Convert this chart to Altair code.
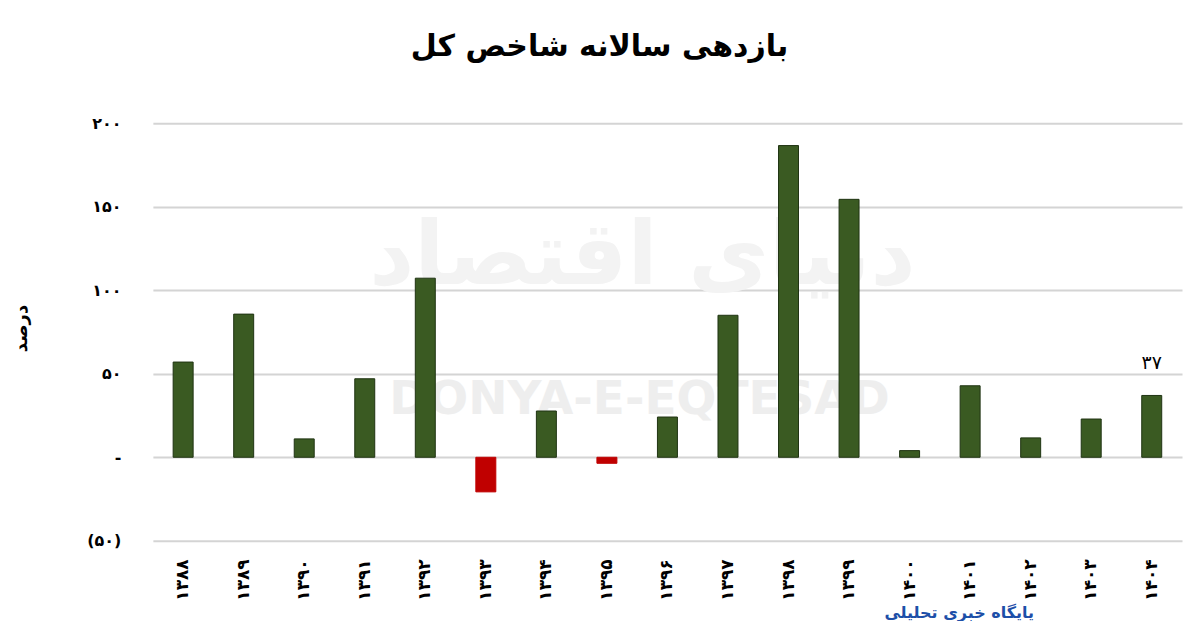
import altair as alt
import pandas as pd

years = ['۱۳۸۸', '۱۳۸۹', '۱۳۹۰', '۱۳۹۱', '۱۳۹۲', '۱۳۹۳', '۱۳۹۴', '۱۳۹۵', '۱۳۹۶',
         '۱۳۹۷', '۱۳۹۸', '۱۳۹۹', '۱۴۰۰', '۱۴۰۱', '۱۴۰۲', '۱۴۰۳', '۱۴۰۴']
returns = [57, 85.7, 11, 47, 107.2, -20.7, 27.7, -3.6, 24.1,
           85, 186.6, 154.4, 4, 42.8, 11.6, 22.9, 37]

y_tick_values = [-50, 0, 50, 100, 150, 200]
y_tick_labels = ['(۵۰)', '-', '۵۰', '۱۰۰', '۱۵۰', '۲۰۰']

label_year = '۱۴۰۴'
label_text = '۳۷'

title_text = 'بازدهی سالانه شاخص کل'
y_title = 'درصد'
watermark_en = 'DONYA-E-EQTESAD'
watermark_fa = 'دنیای اقتصاد'
logo_text = 'پایگاه خبری تحلیلی'

df = pd.DataFrame({'year': years, 'ret': returns})
df['sign'] = ['neg' if v < 0 else 'pos' for v in returns]

expr = "''"
for v, l in zip(y_tick_values, y_tick_labels):
    expr = f"datum.value == {v} ? '{l}' : ({expr})"

FONT = 'DejaVu Sans'

x_enc = alt.X('year:N', sort=None,
              scale=alt.Scale(paddingInner=0.67, paddingOuter=0.335),
              axis=alt.Axis(title=None, labelAngle=-90, labelFontSize=17,
                            labelFontWeight='bold', labelFont=FONT, labelColor='black',
                            labelPadding=18, domain=False, ticks=False, grid=False))
y_enc = alt.Y('ret:Q', scale=alt.Scale(domain=[-50, 200], nice=False, zero=True),
              axis=alt.Axis(values=y_tick_values, labelExpr=expr, title=y_title,
                            titleFont=FONT, titleFontSize=18, titleFontWeight='bold',
                            titleColor='black', titleX=-122, titleY=205, titleAngle=-90,
                            labelFont=FONT, labelFontSize=16, labelFontWeight='bold',
                            labelColor='black', labelPadding=32,
                            domain=False, ticks=False, grid=True,
                            gridColor='#d4d4d4', gridWidth=2))

base = alt.Chart(df)

wm_df = pd.DataFrame({'t': [watermark_en]})
wm_en = alt.Chart(wm_df).mark_text(font=FONT, fontSize=47, fontWeight='bold',
                                   color='#eeeeee', align='center', baseline='middle').encode(
    text='t:N', x=alt.value(487), y=alt.value(277))
wm_fa_df = pd.DataFrame({'t': [watermark_fa]})
wm_fa = alt.Chart(wm_fa_df).mark_text(font=FONT, fontSize=88, fontWeight='bold',
                                      color='#f3f3f3', align='center', baseline='middle').encode(
    text='t:N', x=alt.value(490), y=alt.value(135))

bars = base.mark_bar(size=20, strokeWidth=1).encode(
    x=x_enc, y=y_enc,
    color=alt.Color('sign:N', scale=alt.Scale(domain=['pos', 'neg'], range=['#3a5a22', '#c00000']),
                    legend=None),
    stroke=alt.Stroke('sign:N', scale=alt.Scale(domain=['pos', 'neg'], range=['#1f3312', '#c00000']),
                      legend=None),
)

lab_df = pd.DataFrame({'year': [label_year], 'ret': [returns[years.index(label_year)]], 'txt': [label_text]})
label = alt.Chart(lab_df).mark_text(font=FONT, fontSize=19, color='black', dy=-32,
                                    baseline='middle').encode(
    x=alt.X('year:N', sort=years), y='ret:Q', text='txt:N')

title_df = pd.DataFrame({'t': [title_text]})
title = alt.Chart(title_df).mark_text(font=FONT, fontSize=30, fontWeight='bold',
                                      color='black', align='center', baseline='middle').encode(
    text='t:N', x=alt.value(447), y=alt.value(-76))

logo_df = pd.DataFrame({'t': [logo_text]})
logo = alt.Chart(logo_df).mark_text(font=FONT, fontSize=16, fontWeight='bold',
                                    color='#1d4fa8', align='center', baseline='middle').encode(
    text='t:N', x=alt.value(807), y=alt.value(490))

chart = alt.layer(wm_fa, wm_en, bars, label, title, logo).properties(
    width=1030, height=418,
    autosize=alt.AutoSizeParams(type='none'),
    padding={'left': 145, 'top': 115, 'right': 10, 'bottom': 80},
    background='white',
).configure_view(stroke=None)

chart.save('out.html', embed_options={'renderer': 'svg', 'actions': False})
